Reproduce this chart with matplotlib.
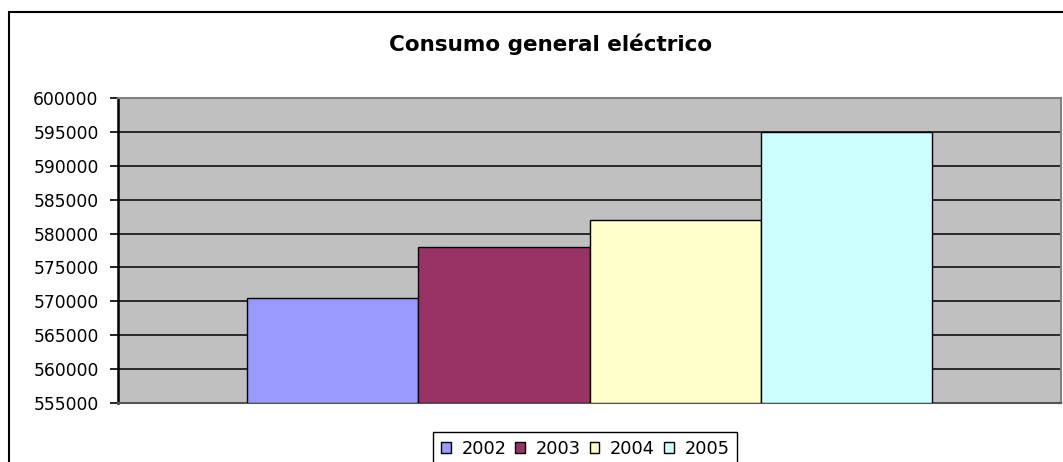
import matplotlib
matplotlib.use("Agg")
import matplotlib.pyplot as plt
from matplotlib.patches import Rectangle

title = "Consumo general eléctrico"
years = ["2002", "2003", "2004", "2005"]
values = [570500, 578000, 582000, 595000]
colors = ["#9999FF", "#993366", "#FFFFCC", "#CCFFFF"]
y_ticks = [555000, 560000, 565000, 570000, 575000, 580000, 585000, 590000, 595000, 600000]

plt.rcParams['font.family'] = ['DejaVu Sans']

W, H = 1063, 462
fig = plt.figure(figsize=(W / 100, H / 100), dpi=100)
fig.patch.set_facecolor("white")

# outer chart border (open on the right/bottom as in the reference)
fig.patches.append(Rectangle((9 / W, -0.05), 1.1, 1 - 12 / H + 0.05,
                             transform=fig.transFigure, fill=False,
                             edgecolor="black", linewidth=1.5))

left, right, top, bottom = 118, 1061, 98, 403
ax = fig.add_axes([left / W, 1 - bottom / H, (right - left) / W, (bottom - top) / H])
ax.set_facecolor("#C0C0C0")

n = len(values)
positions = [i - (n - 1) / 2 for i in range(n)]
bars = []
for p, v, c, lab in zip(positions, values, colors, years):
    b = ax.bar(p, v - y_ticks[0], bottom=y_ticks[0], width=1.0, color=c,
               edgecolor="black", linewidth=1.0, label=lab, zorder=3)
    bars.append(b)

gap = 1.5 / 2
ax.set_xlim(positions[0] - 0.5 - gap, positions[-1] + 0.5 + gap)
ax.set_ylim(y_ticks[0], y_ticks[-1])
ax.set_yticks(y_ticks)
ax.set_yticklabels([str(t) for t in y_ticks])
ax.yaxis.grid(True, color="black", linewidth=1.1, zorder=1)
ax.set_axisbelow(True)
ax.set_xticks([])
ax.tick_params(axis="y", direction="out", length=6, width=1.2, pad=8,
               labelsize=12.3, colors="black")

for s in ["top", "right"]:
    ax.spines[s].set_color("#808080")
    ax.spines[s].set_linewidth(1.5)
ax.spines["left"].set_color("black")
ax.spines["left"].set_linewidth(1.8)
ax.spines["bottom"].set_color("#555555")
ax.spines["bottom"].set_linewidth(1.5)

fig.text(551 / W, 1 - 51 / H, title, ha="center", va="baseline",
         fontsize=15.5, fontweight="bold", color="black")

leg = fig.legend(handles=[b[0] for b in bars], labels=years, ncol=4,
                 loc="upper left", bbox_to_anchor=(433 / W, 1 - 432 / H),
                 bbox_transform=fig.transFigure, fontsize=12.8,
                 frameon=True, fancybox=False, framealpha=1,
                 handlelength=0.55, handleheight=0.55, handletextpad=0.6,
                 columnspacing=0.5, borderpad=0.45, borderaxespad=0)
leg.get_frame().set_edgecolor("black")
leg.get_frame().set_linewidth(1.0)

fig.savefig("out.png", dpi=100, facecolor="white")
